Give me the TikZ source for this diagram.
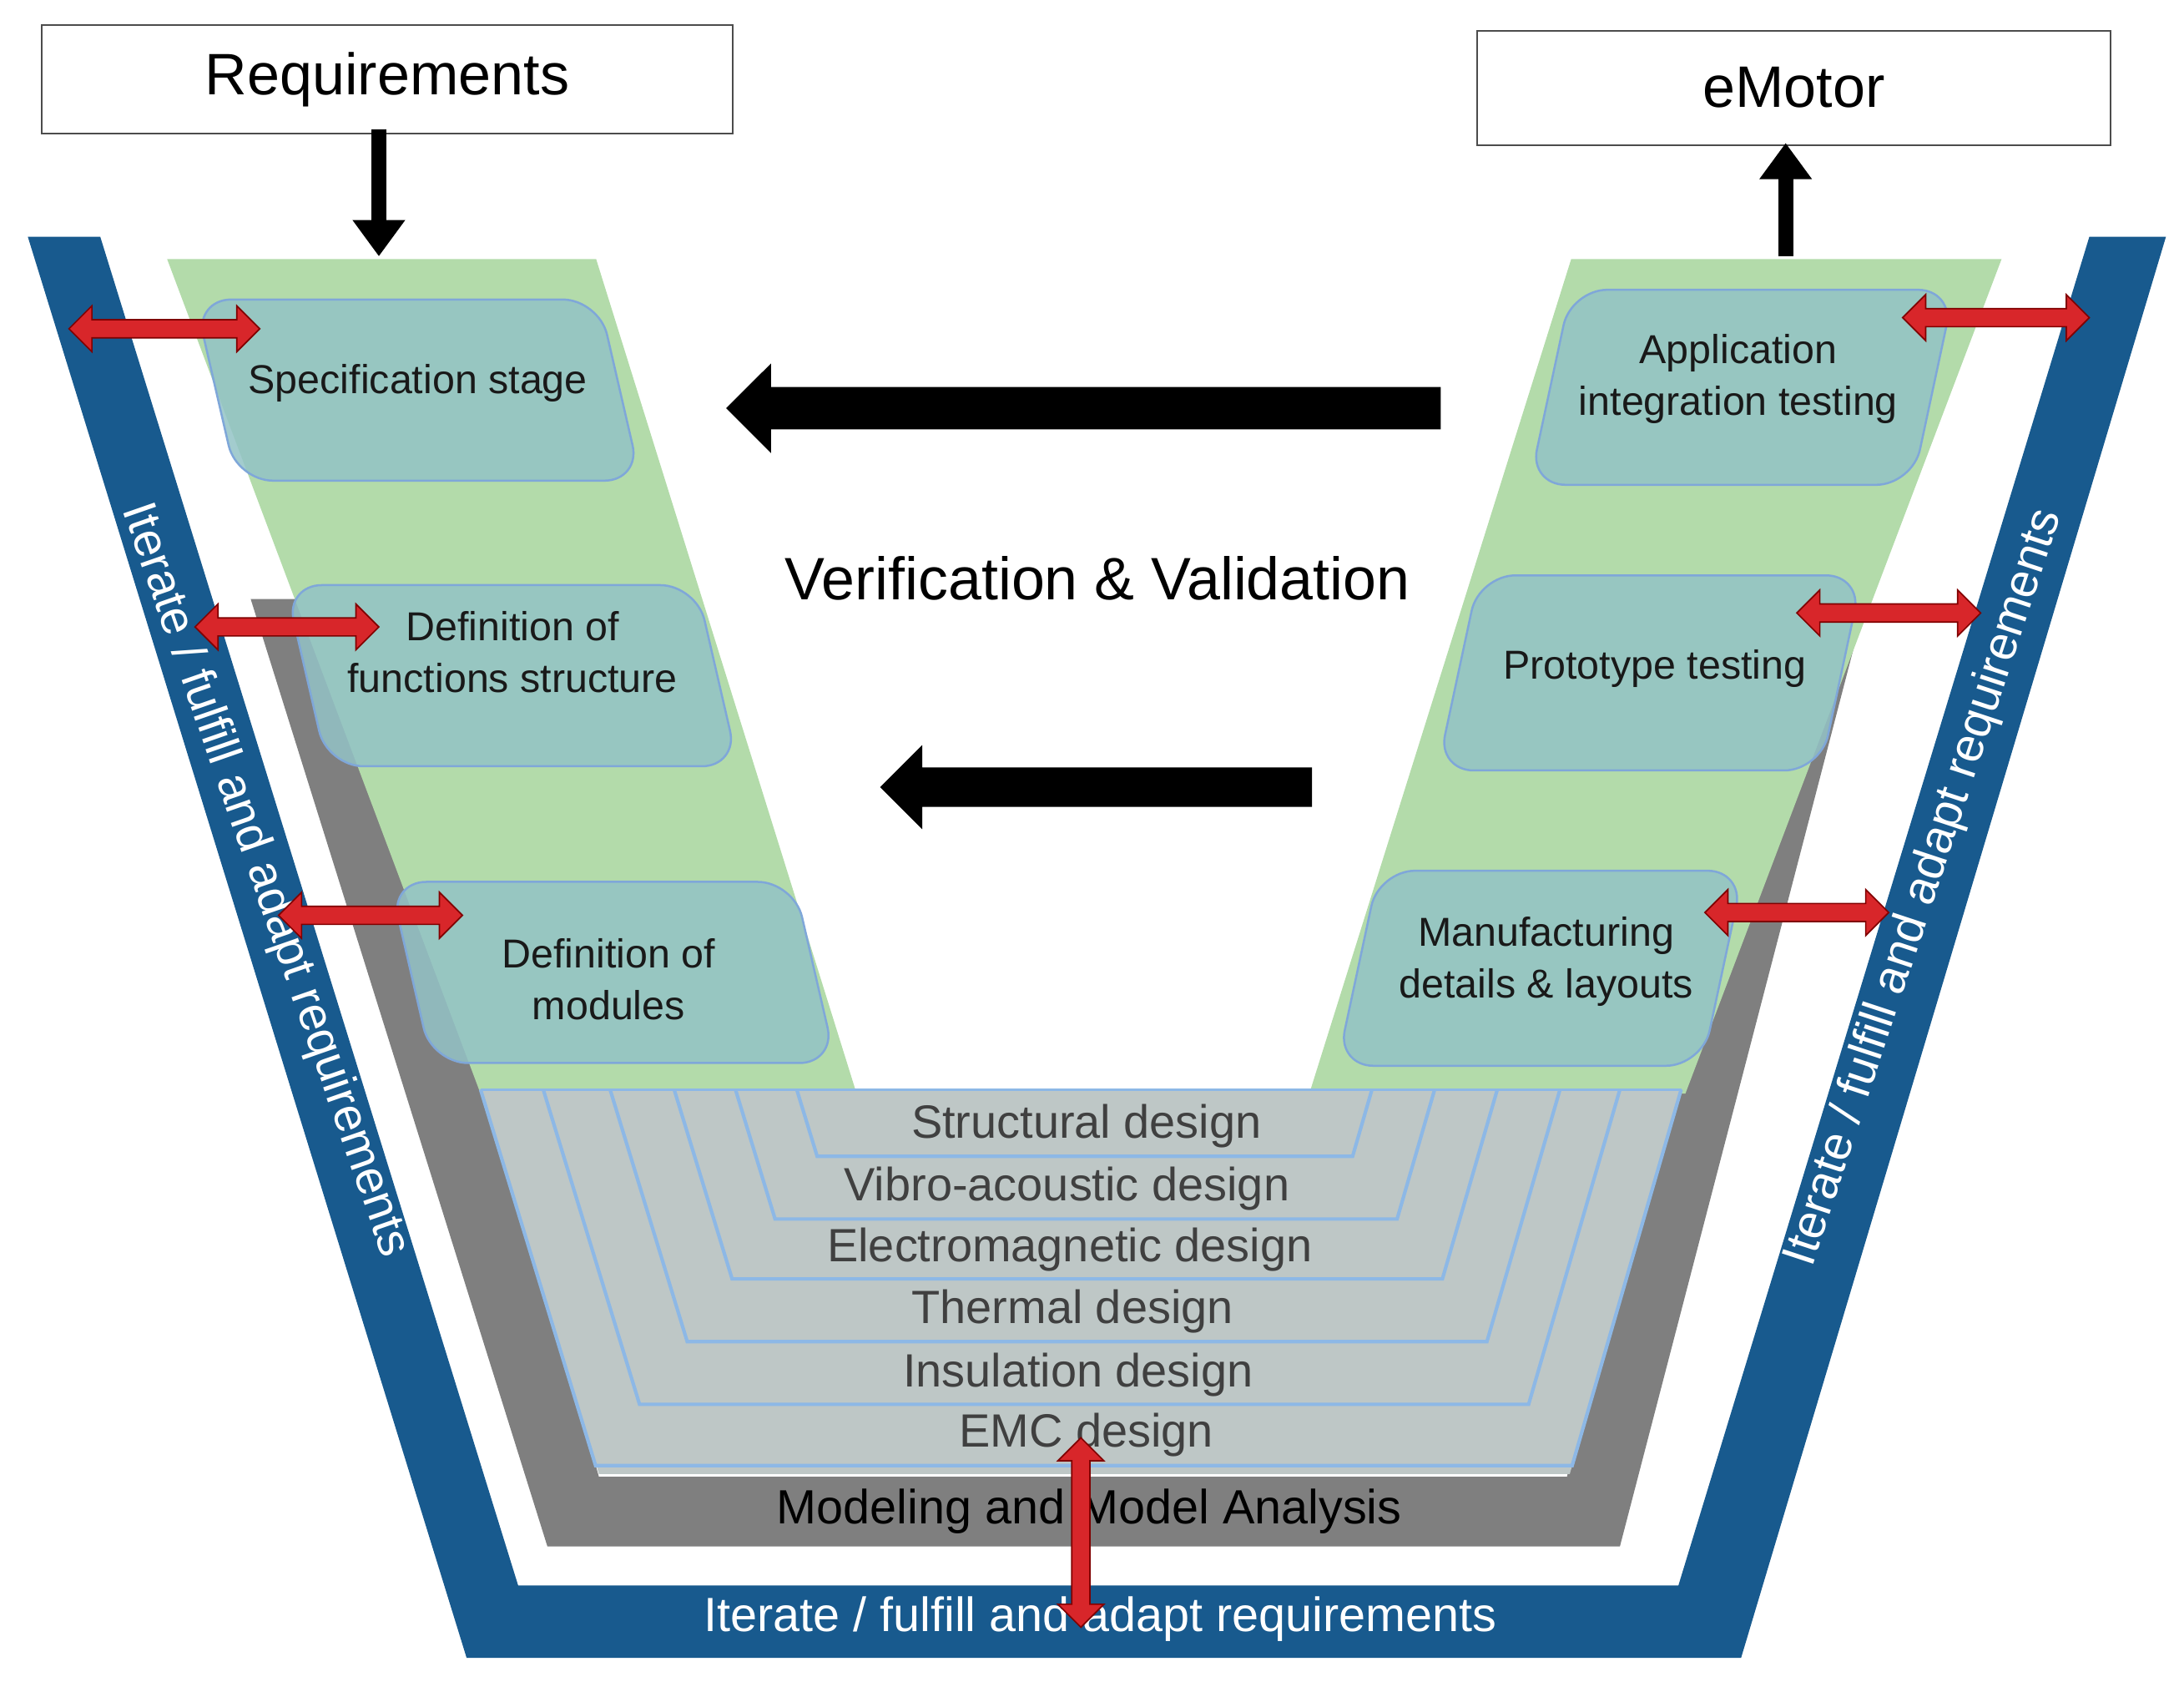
\documentclass[tikz,border=0pt]{standalone}
\usepackage{fontspec}
\setmainfont{Liberation Sans}
\usetikzlibrary{shapes.arrows,arrows.meta}
\definecolor{bandblue}{HTML}{185A8E}
\definecolor{bandgray}{HTML}{7F7F7F}
\definecolor{armgreen}{HTML}{B3DBAA}
\definecolor{boxteal}{HTML}{93C3C6}
\definecolor{boxline}{HTML}{7FA7D9}
\definecolor{layerfill}{HTML}{BEC7C6}
\definecolor{layerline}{HTML}{8DB8E6}
\definecolor{redarrow}{HTML}{D8262A}
\definecolor{txtgray}{HTML}{404040}
\tikzset{
  topbox/.style={draw=black!70,line width=1.2pt,fill=white},
  stage/.style={fill=boxteal,fill opacity=0.85,draw=boxline,line width=1.5pt,rounded corners=26pt},
  stagetxt/.style={align=center,font=\fontsize{29}{37}\selectfont,text=black!90},
  layertxt/.style={font=\fontsize{33.5}{36}\selectfont,text=txtgray},
  iter/.style={font=\fontsize{34.5}{38}\selectfont,text=white},
  redarr/.style={double arrow,fill=redarrow,draw=red!50!black,line width=1pt,inner sep=6pt,minimum width=0pt,double arrow head extend=10pt,double arrow head indent=0pt},
  blackarr/.style={single arrow,fill=black,single arrow head indent=0pt,minimum width=0pt},
}
\begin{document}
\begin{tikzpicture}[x=1pt,y=-1pt]
\useasboundingbox (0,0) rectangle (1568,1214);
% blue outer band
\fill[bandblue] (20,170) -- (72,170) -- (372,1138) -- (1205,1138) -- (1500,170) -- (1555,170) -- (1250,1190) -- (335,1190) -- cycle;
% gray band
\fill[bandgray] (180,430) -- (393,1110) -- (1163,1110) -- (1340,430) -- (1270,430) -- (1125,1060) -- (430,1060) -- (250,430) -- cycle;
% green arms
\fill[armgreen] (120,186) -- (428,186) -- (615,785) -- (345,785) -- cycle;
\fill[armgreen] (1128,186) -- (1437,186) -- (1210,785) -- (940,785) -- cycle;
% design layers
\fill[layerfill] (345,782) -- (1207,782) -- (1127,1058) -- (430,1058) -- cycle;
\foreach \lt/\rt/\yb in {572/985/830,528/1030/875,484/1075/918,438/1120/963,390/1163/1008,345/1207/1052}{
  \draw[layerline,line width=2.5pt] (\lt,782) -- ({\lt+0.306*(\yb-782)},\yb) -- ({\rt-0.29*(\yb-782)},\yb) -- (\rt,782);
}
\draw[layerline,line width=2pt] (345,782) -- (1207,782);
\node[layertxt] (l1) at (780,808) {Structural design};
\node[layertxt] (l2) at (766,853) {Vibro-acoustic design};
\node[layertxt] (l3) at (768,897) {Electromagnetic design};
\node[layertxt] (l4) at (770,941) {Thermal design};
\node[layertxt] (l5) at (774,987) {Insulation design};
\node[layertxt] (l6) at (780,1030) {EMC design};
\node[font=\fontsize{34.5}{38}\selectfont] (mma) at (782,1085) {Modeling and Model Analysis};
% iterate texts
\node[iter] (itb) at (790,1162) {Iterate / fulfill and adapt requirements};
\node[iter,rotate=-70.8] (itl) at (190,632) {Iterate / fulfill and adapt requirements};
\node[iter,rotate=71.7] (itr) at (1382,637) {Iterate / fulfill and adapt requirements};
% stage boxes
\newcommand{\stagebox}[5]{\draw[stage] (#1,#2) -- (#1+#3,#2) -- (#1+#3+#5,#2+#4) -- (#1+#5,#2+#4) -- cycle;}
\stagebox{140}{215}{290}{130}{30}
\stagebox{205}{420}{295}{130}{30}
\stagebox{280}{633}{290}{130}{30}
\stagebox{1128}{208}{275}{140}{-30}
\stagebox{1062}{413}{275}{140}{-30}
\stagebox{990}{625}{262}{140}{-30}
\node[stagetxt] (s1) at (300,275) {Specification stage};
\node[stagetxt] (s2) at (368,468) {Definition of\\functions structure};
\node[stagetxt] (s3) at (437,703) {Definition of\\modules};
\node[stagetxt] (s4) at (1248,272) {Application\\integration testing};
\node[stagetxt] (s5) at (1188,480) {Prototype testing};
\node[stagetxt] (s6) at (1110,690) {Manufacturing\\details \& layouts};
% top boxes
\node[topbox,minimum width=496pt,minimum height=78pt,font=\fontsize{42}{46}\selectfont] (req) at (278,57) {Requirements};
\node[topbox,minimum width=455pt,minimum height=82pt,font=\fontsize{42}{46}\selectfont] (emo) at (1288,63) {eMotor};
\coordinate (reqin) at (272,184);
\coordinate (emoout) at (1282,184);
\draw[line width=11pt,-{Triangle[length=26pt,width=36pt]}] ([yshift=4pt]req.south -| reqin) -- (reqin);
\draw[line width=11pt,-{Triangle[length=26pt,width=36pt]}] (emoout) -- ([yshift=2pt]emo.south -| emoout);
% V&V
\node[font=\fontsize{43}{46}\selectfont] (vv) at (788,415) {Verification \& Validation};
\node[blackarr,inner sep=15pt,minimum height=513pt,shape border rotate=180,single arrow head extend=17pt] (a1) at (785.5,293) {};
\node[blackarr,inner sep=14pt,minimum height=310pt,shape border rotate=180,single arrow head extend=16pt] (a2) at (794,565) {};
% red arrows
\node[redarr,minimum height=137pt] (r1) at (118,236) {};
\node[redarr,minimum height=132pt] (r2) at (206,450) {};
\node[redarr,minimum height=132pt] (r3) at (266,657) {};
\node[redarr,minimum height=134pt] (r4) at (1433,228) {};
\node[redarr,minimum height=132pt] (r5) at (1356,440) {};
\node[redarr,minimum height=132pt] (r6) at (1290,655) {};
\node[redarr,minimum height=136pt,rotate=90] (r7) at (776,1100) {};
\end{tikzpicture}
\end{document}
